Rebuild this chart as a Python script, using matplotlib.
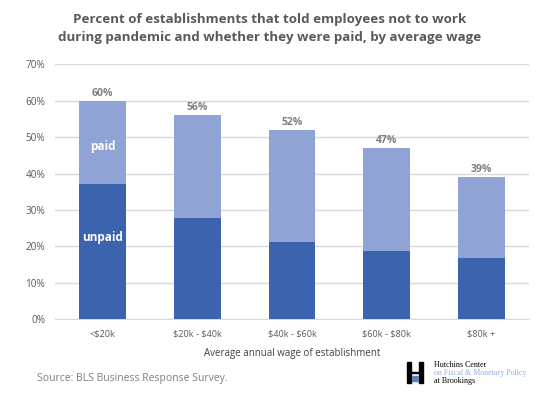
import matplotlib
matplotlib.use("Agg")
import matplotlib.pyplot as plt
from matplotlib.patches import Rectangle
from matplotlib.ticker import PercentFormatter

categories = ["<$20k", "$20k - $40k", "$40k - $60k", "$60k - $80k", "$80k +"]
unpaid = [37.2, 27.9, 21.2, 18.8, 16.7]
total = [60, 56, 52, 47, 39]
paid = [t - u for t, u in zip(total, unpaid)]
total_labels = ["60%", "56%", "52%", "47%", "39%"]

plt.rcParams['font.family'] = ['Open Sans', 'DejaVu Sans']
plt.rcParams['text.usetex'] = False
plt.rcParams['text.parse_math'] = False

fig = plt.figure(figsize=(5.4, 3.96), dpi=100)
ax = fig.add_axes([55/540, 1-319.3/396, 474/540, (319.3-64.3)/396])

c_unpaid = "#3C64AE"
c_paid = "#8FA4D4"
x = list(range(len(categories)))
ax.bar(x, unpaid, width=0.495, color=c_unpaid, zorder=3)
ax.bar(x, paid, bottom=unpaid, width=0.495, color=c_paid, zorder=3)

for xi, t, lab in zip(x, total, total_labels):
    ax.text(xi, t + 0.6, lab, ha="center", va="bottom", fontsize=7.5,
            fontweight="bold", color="#7f7f7f")

ax.text(0, 47.3, "paid", ha="center", va="center",
        fontsize=8.5, fontweight="bold", color="white", zorder=4)
ax.text(0, 22.4, "unpaid", ha="center", va="center",
        fontsize=8.5, fontweight="bold", color="white", zorder=4)

ax.set_xlim(-0.5, 4.5)
ax.set_ylim(0, 70)
ax.set_yticks(range(0, 71, 10))
ax.yaxis.set_major_formatter(PercentFormatter(decimals=0))
ax.set_xticks(x)
ax.set_xticklabels(categories)
ax.tick_params(axis="both", length=0, labelsize=7.2, labelcolor="#595959")
ax.tick_params(axis="y", pad=7)
ax.tick_params(axis="x", pad=7, labelsize=6.6)
ax.grid(axis="y", color="#d9d9d9", linewidth=1, zorder=0)
for s in ["top", "right", "left"]:
    ax.spines[s].set_visible(False)
ax.spines["bottom"].set_color("#d9d9d9")
ax.set_xlabel("Average annual wage of establishment", fontsize=7,
              color="#404040", labelpad=7)

fig.text(0.5, 1 - 19/396, "Percent of establishments that told employees not to work",
         ha="center", va="center", fontsize=9.6, fontweight="bold", color="#595959")
fig.text(0.5, 1 - 38/396, "during pandemic and whether they were paid, by average wage",
         ha="center", va="center", fontsize=9.6, fontweight="bold", color="#595959")

fig.text(37/540, 1 - 379/396, "Source: BLS Business Response Survey.",
         ha="left", va="center", fontsize=7.5, color="#7f7f7f")

# Logo
fig.patches.append(Rectangle((407/540, 1-383/396), 4/540, 21/396,
                             transform=fig.transFigure, color="black"))
fig.patches.append(Rectangle((419/540, 1-383/396), 4/540, 21/396,
                             transform=fig.transFigure, color="black"))
fig.patches.append(Rectangle((411/540, 1-373/396), 8/540, 1.2/396,
                             transform=fig.transFigure, color="black"))
fig.patches.append(Rectangle((412/540, 1-381/396), 6/540, 5/396,
                             transform=fig.transFigure, color="#5b7fc0"))
serif = ["Liberation Serif", "DejaVu Serif"]
fig.text(434/540, 1 - 365/396, "Hutchins Center", fontsize=5.8, family=serif,
         color="black", va="center")
fig.text(434/540, 1 - 373/396, "on Fiscal & Monetary Policy", fontsize=5.8, family=serif,
         color="#8fb0e0", va="center")
fig.text(434/540, 1 - 381/396, "at Brookings", fontsize=5.8, family=serif,
         color="black", va="center")

fig.savefig("out.png", dpi=100)
